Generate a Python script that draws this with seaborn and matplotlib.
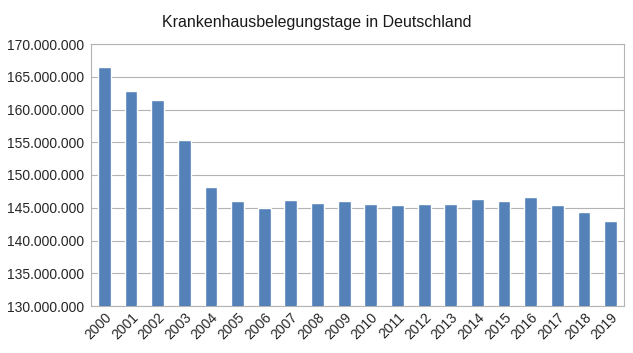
import matplotlib
matplotlib.use("Agg")
import matplotlib.pyplot as plt
import matplotlib.ticker as mticker
import pandas as pd
import seaborn as sns

# Belegungstage pro Jahr
years = [str(y) for y in range(2000, 2020)]
days = [166.5, 162.9, 161.5, 155.4, 148.2, 146.1, 144.9, 146.2, 145.8, 146.0,
        145.6, 145.4, 145.6, 145.5, 146.4, 146.0, 146.7, 145.4, 144.3, 143.0]
days = [d * 1e6 for d in days]

df = pd.DataFrame({"Jahr": years, "Tage": days})

sns.set_style("white")
plt.rcParams["font.family"] = ["Liberation Sans", "DejaVu Sans"]

fig = plt.figure(figsize=(6.33, 3.53), dpi=100)
ax = fig.add_axes([91 / 633, 1 - 306 / 353, (624 - 91) / 633, (306 - 44) / 353])

sns.barplot(data=df, x="Jahr", y="Tage", color="#5482b8", width=0.48,
            saturation=1, ax=ax, zorder=3)

ax.set_ylim(130e6, 170e6)
ax.set_xlim(-0.5, len(years) - 0.5)
ax.yaxis.set_major_locator(mticker.MultipleLocator(5e6))
ax.yaxis.set_major_formatter(
    mticker.FuncFormatter(lambda v, p: f"{int(v):,}".replace(",", ".")))
ax.grid(axis="y", color="#b3b3b3", linewidth=0.8, zorder=0)

for s in ax.spines.values():
    s.set_color("#b3b3b3")
    s.set_linewidth(0.8)

# Striche zwischen den Kategorien wie in LibreOffice
ax.set_xticks([i - 0.5 for i in range(len(years) + 1)], minor=True)
ax.tick_params(axis="x", which="minor", length=4, color="#b3b3b3", width=0.8)
ax.tick_params(axis="x", which="major", length=0, labelsize=10, pad=3)
ax.tick_params(axis="y", length=4, color="#b3b3b3", width=0.8, labelsize=10, pad=1)
plt.setp(ax.get_xticklabels(), rotation=45, ha="right", rotation_mode="anchor")

ax.set_xlabel("")
ax.set_ylabel("")
fig.suptitle("Krankenhausbelegungstage in Deutschland", fontsize=11.5,
             color="#1a1a1a", y=1 - 22 / 353, va="center")

fig.savefig("out.png", dpi=100)
